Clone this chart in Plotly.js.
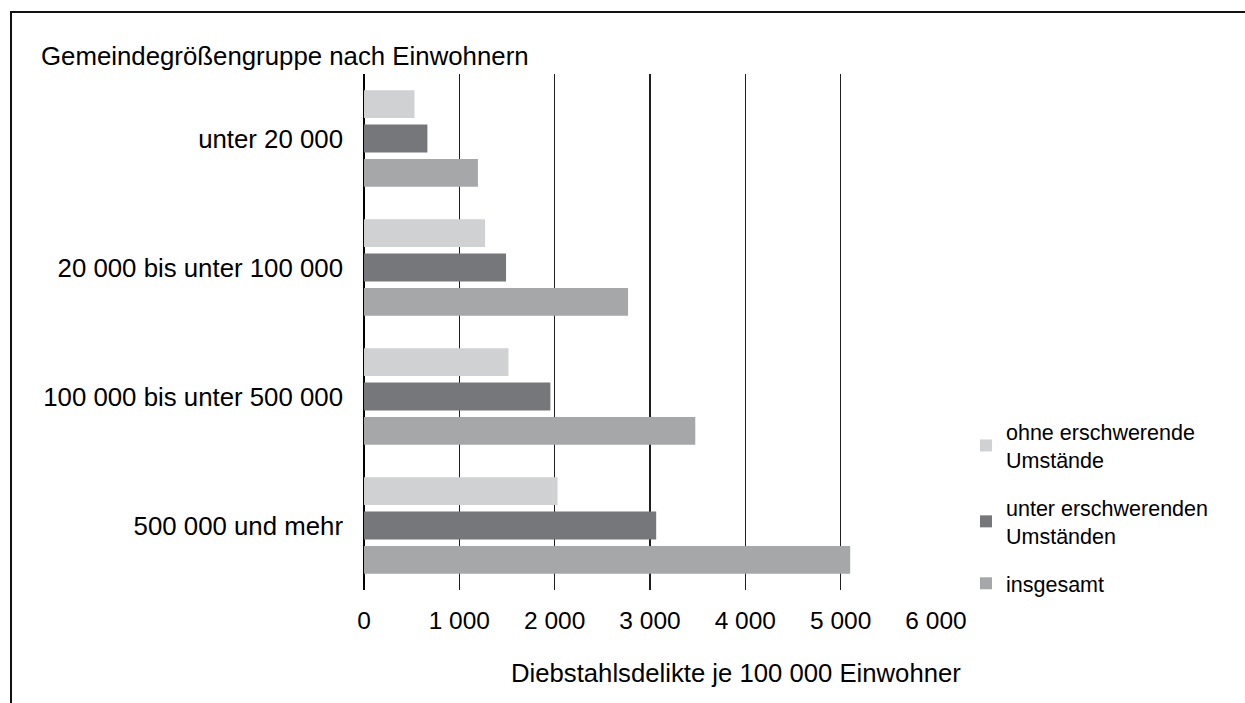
<!DOCTYPE html>
<html>
<head>
<meta charset="utf-8">
<script src="https://cdn.plot.ly/plotly-3.0.1.min.js"></script>
<style>
  html, body { margin: 0; padding: 0; background: #fff; }
  #wrap { position: relative; width: 1245px; height: 703px; overflow: hidden; }
  #chart { width: 1245px; height: 703px; }
  #frame { position: absolute; left: 10px; top: 11px; width: 1300px; height: 800px;
           border-top: 2px solid #111; border-left: 2px solid #111; pointer-events: none; }
</style>
</head>
<body>
<div id="wrap">
  <div id="chart"></div>
  <div id="frame"></div>
</div>
<script>
const categories = ["unter 20 000", "20 000 bis unter 100 000", "100 000 bis unter 500 000", "500 000 und mehr"];
const seriesNames = ["ohne erschwerende<br>Umstände", "unter erschwerenden<br>Umständen", "insgesamt"];
const ohneValues = [530, 1270, 1515, 2030];
const unterValues = [665, 1490, 1955, 3065];
const insgesamtValues = [1195, 2770, 3475, 5100];
const seriesColors = ["#d0d1d3", "#76777a", "#a6a7a9"];
const xTickVals = [0, 1000, 2000, 3000, 4000, 5000, 6000];
const xTickText = ["0", "1 000", "2 000", "3 000", "4 000", "5 000", "6 000"];
const yTitle = "Gemeindegrößengruppe nach Einwohnern";
const xTitle = "Diebstahlsdelikte je 100 000 Einwohner";

const seriesValues = [ohneValues, unterValues, insgesamtValues];
const font = "Liberation Sans, Arial, sans-serif";

const traces = seriesValues.map((vals, i) => ({
  type: "bar",
  orientation: "h",
  y: categories,
  x: vals,
  name: seriesNames[i],
  legendgroup: "g" + i,
  marker: { color: seriesColors[i], line: { width: 0 } },
  hoverinfo: "x+y"
}));

const W = 1245, H = 703;
const margin = { l: 364, r: 309, t: 74, b: 113, pad: 0 };
const plotW = W - margin.l - margin.r;
const plotH = H - margin.t - margin.b;
const px2x = px => (px - margin.l) / plotW;
const py2y = py => 1 - (py - margin.t) / plotH;

const layout = {
  width: W, height: H,
  margin: margin,
  paper_bgcolor: "#fff",
  plot_bgcolor: "#fff",
  font: { family: font, color: "#000", size: 24 },
  barmode: "group",
  bargap: 0.2,
  bargroupgap: 0.19,
  showlegend: true,
  legend: {
    x: px2x(966), y: py2y(411), xanchor: "left", yanchor: "top",
    traceorder: "grouped", tracegroupgap: 17,
    font: { family: font, size: 21.5, color: "#000" },
    bgcolor: "rgba(0,0,0,0)"
  },
  xaxis: {
    range: [0, 6000],
    tickvals: xTickVals,
    ticktext: xTickText,
    showgrid: true,
    gridcolor: "#1e1e1e",
    gridwidth: 1.3,
    zeroline: true,
    zerolinecolor: "#000",
    zerolinewidth: 1.5,
    showline: false,
    ticks: "",
    ticklabelstandoff: 13,
    tickfont: { family: font, size: 24.5, color: "#000" },
    fixedrange: true
  },
  yaxis: {
    type: "category",
    autorange: "reversed",
    showgrid: false,
    zeroline: false,
    showline: false,
    ticks: "",
    ticklabelstandoff: 20,
    tickfont: { family: font, size: 25.8, color: "#000" },
    fixedrange: true
  },
  annotations: [
    { text: yTitle, xref: "paper", yref: "paper", x: px2x(39), y: py2y(56),
      xanchor: "left", yanchor: "middle", showarrow: false,
      font: { family: font, size: 25.8, color: "#000" } },
    { text: xTitle, xref: "paper", yref: "paper", x: px2x(509), y: py2y(673),
      xanchor: "left", yanchor: "middle", showarrow: false,
      font: { family: font, size: 25.7, color: "#000" } }
  ]
};

Plotly.newPlot("chart", traces, layout, { displayModeBar: false, staticPlot: true });
</script>
</body>
</html>
